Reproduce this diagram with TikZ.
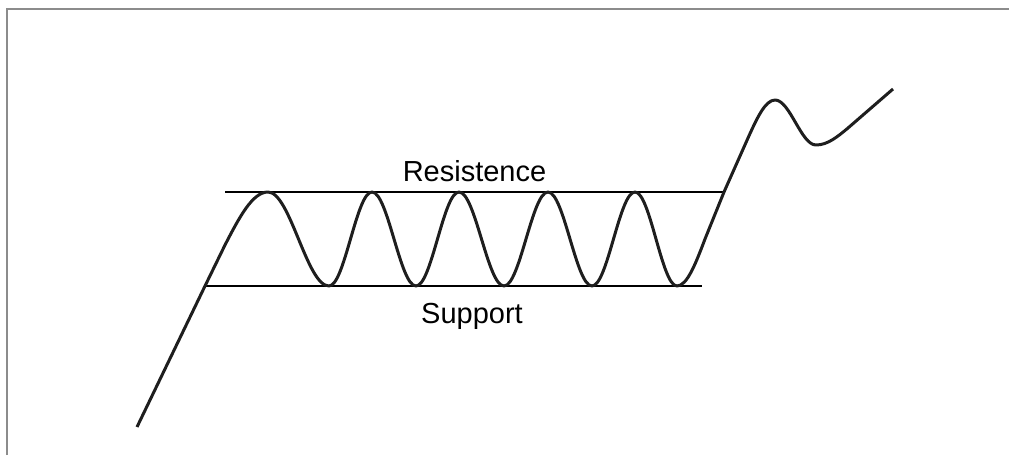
\documentclass[tikz,border=0pt]{standalone}
\usepackage{fontspec}
\setmainfont{Liberation Sans}
\usepackage{tikz}
\usetikzlibrary{positioning}
\definecolor{framegray}{RGB}{140,140,140}
\definecolor{pricecol}{RGB}{30,30,30}

\begin{document}
\begin{tikzpicture}[x=1pt,y=-1pt,
  frameline/.style={draw=framegray, line width=2.5pt},
  levelline/.style={draw=black, line width=1.8pt},
  price/.style={draw=pricecol, line width=3pt, line join=round},
  lbl/.style={anchor=base, inner sep=0pt, font=\fontsize{29}{34}\selectfont}
]
\useasboundingbox (0,0) rectangle (1009,455);
% frame, top and left only
\draw[frameline] (7,455) -- (7,9) -- (1009,9);
% support and resistance levels
\coordinate (resL) at (225,192);
\coordinate (resR) at (724,192);
\coordinate (supL) at (205,286);
\coordinate (supR) at (702,286);
\draw[levelline] (resL) -- (resR);
\draw[levelline] (supL) -- (supR);
\node[lbl] (res) at (474.5,181) {Resistence};
\node[lbl] (sup) at (472,323) {Support};
% price path
\draw[price] (137,427) -- (supL) -- (225,245) sin (268,192)
  cos (298.5,239) sin (329,286) cos (350.5,239) sin (372,192)
  cos (394,239) sin (416,286) cos (437.5,239) sin (459,192)
  cos (481.5,239) sin (504,286) cos (526,239) sin (548,192)
  cos (570,239) sin (592,286) cos (613.5,239) sin (635,192)
  cos (656,239) sin (677,286)
  cos (705,239) -- (resR) -- (748,138) sin (775,100)
  cos (795.5,122.5) sin (816,145)
  cos (848,128) -- (893,89);
\end{tikzpicture}
\end{document}
